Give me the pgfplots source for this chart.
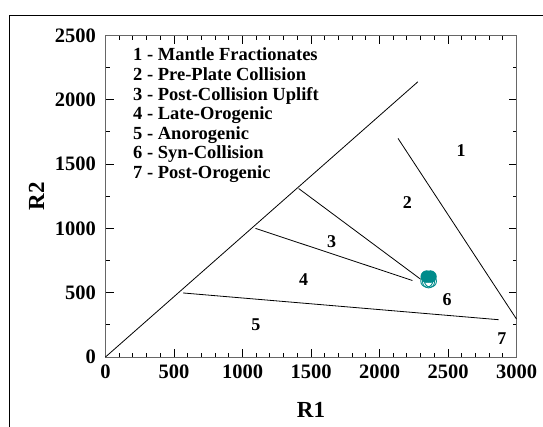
\documentclass[border=0pt]{standalone}
\usepackage{fontspec}
\setmainfont{Liberation Serif}
\usepackage{pgfplots}
\pgfplotsset{compat=1.18}
\definecolor{teal1}{RGB}{0,140,140}
\begin{document}
\begin{tikzpicture}
\begin{axis}[
  at={(0,0)}, anchor=south west,
  scale only axis, width=411pt, height=321.5pt,
  xmin=0,xmax=3000,ymin=0,ymax=2500,
  xtick={0,500,...,3000}, ytick={0,500,...,2500},
  minor x tick num=4, minor y tick num=1,
  tick align=inside,
  major tick length=8pt, minor tick length=4pt,
  every tick/.style={black, line width=1pt},
  axis line style={black!60, line width=0.8pt},
  scaled ticks=false,
  /pgf/number format/assume math mode=true,
  /pgf/number format/1000 sep={},
  ticklabel style={font=\fontsize{20.5}{20.5}\selectfont\bfseries},
  yticklabel style={xshift=-6pt},
  xticklabel style={yshift=-4pt},
  xlabel={R1}, ylabel={R2},
  label style={font=\fontsize{23}{23}\selectfont\bfseries},
  xlabel style={at={(axis description cs:0.5,-0.165)}, anchor=center},
  ylabel style={at={(axis description cs:-0.168,0.5)}, anchor=center},
  clip=false,
]
\addplot[black, line width=0.8pt] coordinates {(0,0) (2280,2140)};
\addplot[black, line width=0.8pt] coordinates {(1410,1310) (2300,605)};
\addplot[black, line width=0.8pt] coordinates {(1095,1000) (2240,595)};
\addplot[black, line width=0.8pt] coordinates {(566,498) (2870,290)};
\addplot[black, line width=0.8pt] coordinates {(2135,1700) (3000,295)};
\addplot[only marks, mark=o, mark size=6pt, teal1, line width=0.9pt] coordinates {(2345,590) (2372,590) (2358,584)};
\addplot[only marks, mark=*, mark size=6pt, teal1, mark options={fill=teal1, draw=teal1}] coordinates {(2345,625) (2372,625)};
\begin{scope}[every node/.style={font=\fontsize{18}{18}\selectfont\bfseries, inner sep=0pt}]
\node at (axis cs:2595,1604) {1};
\node at (axis cs:2204,1199) {2};
\node at (axis cs:1651,899) {3};
\node at (axis cs:1447,603) {4};
\node at (axis cs:1097,250) {5};
\node at (axis cs:2494,446) {6};
\node at (axis cs:2893,146) {7};
\end{scope}
\begin{scope}[every node/.style={font=\fontsize{18.5}{18.5}\selectfont\bfseries, inner sep=0pt, anchor=base west}]
\node at (axis cs:201,2302) {1 - Mantle Fractionates};
\node at (axis cs:201,2150) {2 - Pre-Plate Collision};
\node at (axis cs:201,1998) {3 - Post-Collision Uplift};
\node at (axis cs:201,1846) {4 - Late-Orogenic};
\node at (axis cs:201,1694) {5 - Anorogenic};
\node at (axis cs:201,1542) {6 - Syn-Collision};
\node at (axis cs:201,1390) {7 - Post-Orogenic};
\end{scope}
\end{axis}
\pgfresetboundingbox
\path[use as bounding box] (-105.5pt,-69pt) rectangle (437.5pt,357pt);
\draw[line width=1.5pt] (-96pt,-75pt) -- (-96pt,341.5pt) -- (445pt,341.5pt);
\end{tikzpicture}
\end{document}
